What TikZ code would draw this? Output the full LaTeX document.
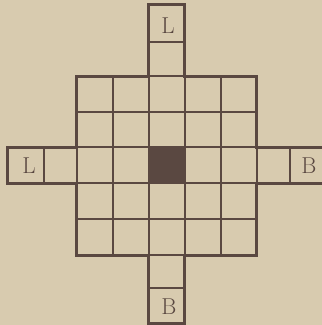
\documentclass[tikz,border=0pt]{standalone}
\definecolor{paper}{HTML}{D8CBAF}
\definecolor{ink}{HTML}{5A4841}
\tikzset{
  thinline/.style={draw=ink, line width=1.6pt},
  thickline/.style={draw=ink, line width=3pt, line join=miter},
  midline/.style={draw=ink, line width=2.2pt},
  letter/.style={text=ink, font=\fontsize{23}{23}\selectfont, inner sep=0pt}
}
\begin{document}
\begin{tikzpicture}[x=1pt,y=-1pt]
\fill[paper] (0,0) rectangle (322,325);
\useasboundingbox (0,0) rectangle (322,325);
\clip (0,0) rectangle (322,325);
% centre cell
\fill[ink] (149,147) rectangle (185,183);
% interior grid lines
\foreach \x in {77,113,149,185,221,257} \draw[thinline] (\x,76) -- (\x,255);
\foreach \y in {76,112,147,183,219,255} \draw[thinline] (77,\y) -- (257,\y);
% arm dividers
\draw[midline] (149,42) -- (185,42);
\draw[midline] (44,147) -- (44,183);
\draw[midline] (290,147) -- (290,183);
\draw[midline] (149,288) -- (185,288);
% outline
\draw[thickline] (330,147) -- (257,147) -- (257,76) -- (185,76) -- (185,4) -- (149,4) -- (149,76) -- (77,76) -- (77,147) -- (8,147) -- (8,183) -- (77,183) -- (77,255) -- (149,255) -- (149,323) -- (185,323) -- (185,255) -- (257,255) -- (257,183) -- (330,183);
% letters
\node[letter] (lt) at (168,26) {L};
\node[letter] (ll) at (29,166) {L};
\node[letter] (br) at (309,166) {B};
\node[letter] (bb) at (169,307) {B};
\end{tikzpicture}
\end{document}
